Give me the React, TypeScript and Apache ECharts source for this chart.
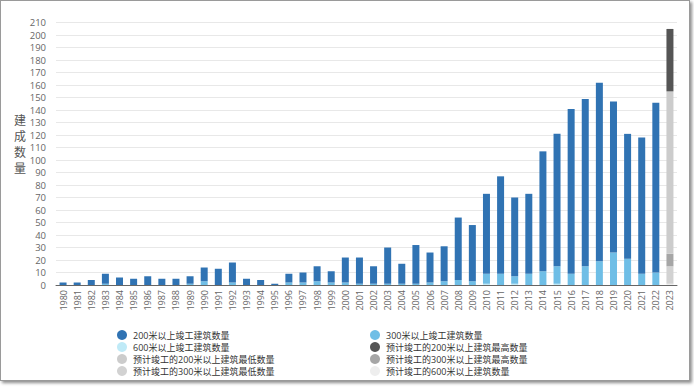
import React, { useEffect, useRef } from "react";
import * as echarts from "echarts";

const years = [
  "1980", "1981", "1982", "1983", "1984", "1985", "1986", "1987", "1988", "1989",
  "1990", "1991", "1992", "1993", "1994", "1995", "1996", "1997", "1998", "1999",
  "2000", "2001", "2002", "2003", "2004", "2005", "2006", "2007", "2008", "2009",
  "2010", "2011", "2012", "2013", "2014", "2015", "2016", "2017", "2018", "2019",
  "2020", "2021", "2022", "2023",
];

// stacked segment values, 1980–2023 (2023 = forecast only)
const over600 = [
  0, 0, 0, 0, 0, 0, 0, 0, 0, 0,
  0, 0, 0, 0, 0, 0, 0, 0, 0, 0,
  0, 0, 0, 0, 0, 0, 0, 0, 0, 0,
  1, 0, 1, 0, 0, 1, 0, 0, 0, 0,
  0, 0, 0, null,
];
const over300 = [
  0, 0, 0, 1, 0, 0, 0, 0, 0, 1,
  3, 0, 2, 0, 0, 0, 2, 2, 3, 2,
  2, 1, 1, 1, 1, 1, 2, 3, 4, 3,
  8, 9, 6, 9, 11, 14, 9, 15, 19, 26,
  21, 9, 10, null,
];
const over200 = [
  2, 2, 4, 8, 6, 5, 7, 5, 5, 6,
  11, 13, 16, 5, 4, 1, 7, 8, 12, 9,
  20, 21, 14, 29, 16, 31, 24, 28, 50, 45,
  64, 78, 63, 64, 96, 106, 132, 134, 143, 121,
  100, 109, 136, null,
];

// 2023 forecast segments
const forecast600 = 1;
const forecast300Low = 14;
const forecast300High = 10;
const forecast200Low = 130;
const forecast200High = 50;

const N200 = "200米以上竣工建筑数量";
const N300 = "300米以上竣工建筑数量";
const N600 = "600米以上竣工建筑数量";
const NP200H = "预计竣工的200米以上建筑最高数量";
const NP200L = "预计竣工的200米以上建筑最低数量";
const NP300H = "预计竣工的300米以上建筑最高数量";
const NP300L = "预计竣工的300米以上建筑最低数量";
const NP600 = "预计竣工的600米以上建筑数量";

const FONT = '"Open Sans", "Noto Sans CJK SC", sans-serif';

function onlyLast(v: number) {
  return years.map((_, i) => (i === years.length - 1 ? v : null));
}

export default function App() {
  const ref = useRef<HTMLDivElement>(null);
  useEffect(() => {
    const chart = echarts.init(ref.current!, null, { renderer: "svg" });
    const bar = (name: string, data: (number | null)[], color: string) => ({
      name,
      type: "bar",
      stack: "total",
      barWidth: 7,
      data,
      itemStyle: { color },
      emphasis: { disabled: true },
    });
    const legendBase = {
      orient: "vertical",
      top: 325,
      itemWidth: 12,
      itemHeight: 10,
      itemGap: 2,
      icon: "circle",
      textStyle: { fontSize: 9, color: "#333", lineHeight: 10, fontFamily: FONT },
    };
    chart.setOption({
      animation: false,
      textStyle: { fontFamily: FONT },
      grid: { left: 56, right: 17, top: 22.7, bottom: 103, containLabel: false },
      legend: [
        { ...legendBase, left: 112, data: [N200, N600, NP200L, NP300L] },
        { ...legendBase, left: 365, data: [N300, NP200H, NP300H, NP600] },
      ],
      graphic: [
        {
          type: "text",
          x: 20,
          y: 112,
          style: {
            text: "建\n成\n数\n量",
            fontSize: 12,
            lineHeight: 16,
            fill: "#555",
            textAlign: "center",
            fontFamily: FONT,
          },
        },
      ],
      xAxis: {
        type: "category",
        data: years,
        axisTick: { show: false },
        axisLine: { lineStyle: { color: "#666", width: 1 } },
        axisLabel: { rotate: 90, interval: 0, fontSize: 9, color: "#666", margin: 5 },
      },
      yAxis: {
        type: "value",
        min: 0,
        max: 210,
        interval: 10,
        axisLine: { show: false },
        axisTick: { show: false },
        axisLabel: { fontSize: 9.5, color: "#666", margin: 10 },
        splitLine: { lineStyle: { color: "#e8e8e8" } },
      },
      series: [
        bar(N600, over600, "#bfeaf7"),
        bar(N300, over300, "#6fbee6"),
        bar(N200, over200, "#3073b3"),
        bar(NP600, onlyLast(forecast600), "#eeeeee"),
        bar(NP300L, onlyLast(forecast300Low), "#d2d2d2"),
        bar(NP300H, onlyLast(forecast300High), "#a6a6a6"),
        bar(NP200L, onlyLast(forecast200Low), "#cccccc"),
        bar(NP200H, onlyLast(forecast200High), "#555555"),
      ],
    });
    return () => chart.dispose();
  }, []);
  return (
    <div style={{ position: "fixed", left: 0, top: 0, width: 694, height: 388, background: "#fff" }}>
      <div ref={ref} style={{ position: "absolute", left: 0, top: 0, width: 694, height: 388 }} />
      <div
        style={{
          position: "absolute",
          left: 0,
          top: 0,
          width: 690,
          height: 381,
          boxSizing: "border-box",
          border: "1px solid #9a9a9a",
          boxShadow: "2px 2px 3px rgba(0,0,0,0.45)",
          pointerEvents: "none",
        }}
      />
    </div>
  );
}
